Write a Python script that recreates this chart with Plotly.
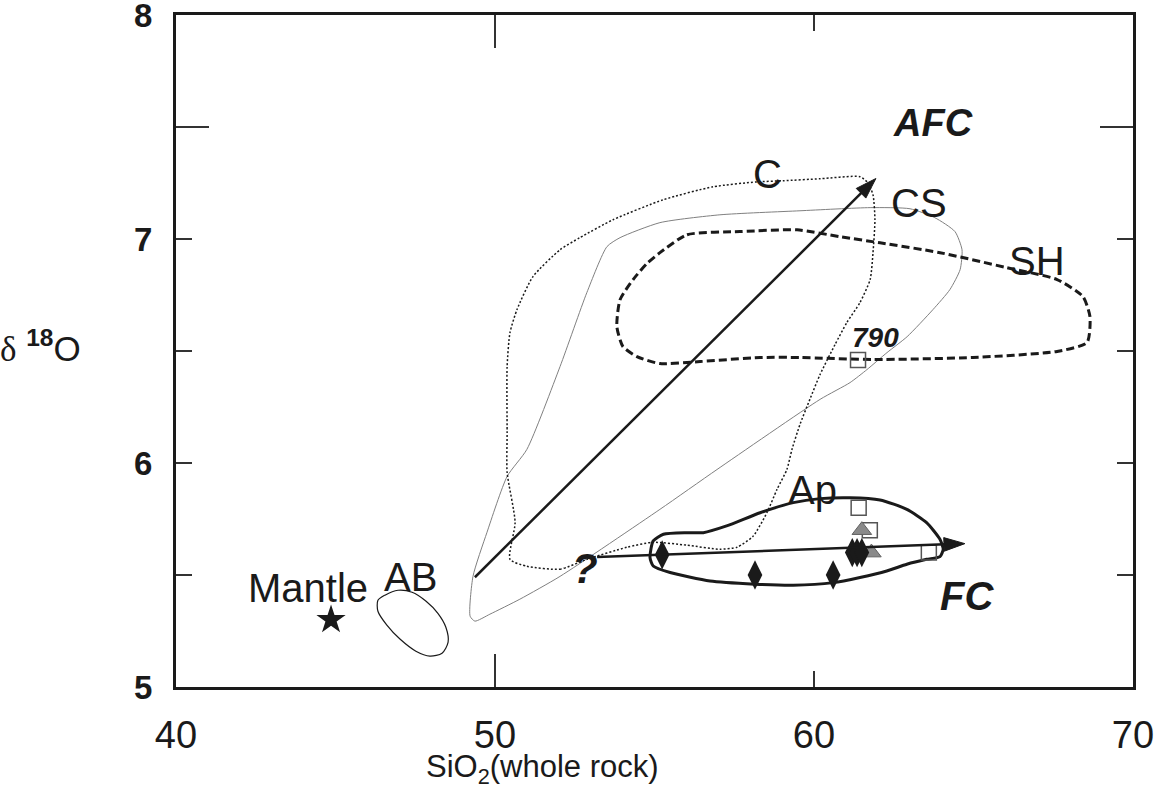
import plotly.graph_objects as go

# ---------------- data ----------------
x_range = [40, 70]
y_range = [5, 8]
x_tick_vals = [40, 50, 60, 70]
x_tick_text = ["40", "50", "60", "70"]
y_tick_vals = [5, 6, 7, 8]
y_tick_text = ["5", "6", "7", "8"]
y_minor_vals = [5.5, 6.5, 7.5]

# C field (dotted)
c_x = [51.00, 52.04, 52.88, 54.14, 54.95, 56.02, 57.05, 57.59, 58.09, 58.53, 58.84, 59.15, 59.31,
       59.56, 59.87, 60.19, 60.66, 61.03, 61.44, 61.76, 61.85, 61.91, 61.85, 61.69, 61.44, 60.19,
       59.03, 58.21, 56.83, 55.27, 53.70, 52.66, 52.04, 51.19, 50.69, 50.47, 50.38, 50.38, 50.38,
       50.63, 50.47, 51.00]
c_y = [5.539, 5.526, 5.570, 5.624, 5.646, 5.633, 5.615, 5.624, 5.673, 5.780, 5.882, 5.971, 6.061,
       6.172, 6.284, 6.395, 6.529, 6.627, 6.716, 6.819, 6.939, 7.086, 7.197, 7.251, 7.278, 7.269,
       7.260, 7.255, 7.233, 7.175, 7.086, 7.006, 6.952, 6.832, 6.685, 6.582, 6.431, 6.136, 5.958,
       5.735, 5.570, 5.539]

# CS field (thin grey)
cs_x = [49.22, 49.31, 49.75, 50.38, 51.00, 52.04, 52.88, 53.51, 53.92, 55.17, 57.05, 59.56, 61.76,
        63.01, 63.79, 64.42, 64.64, 64.58, 64.26, 63.73, 62.92, 62.29, 61.66, 61.13, 60.19, 56.96,
        55.17, 52.04, 50.78, 49.84, 49.37, 49.22]
cs_y = [5.316, 5.494, 5.691, 5.940, 6.061, 6.431, 6.761, 6.966, 7.006, 7.073, 7.108, 7.126, 7.140,
        7.135, 7.095, 7.033, 6.952, 6.863, 6.774, 6.685, 6.564, 6.493, 6.417, 6.359, 6.284, 5.971,
        5.793, 5.494, 5.392, 5.325, 5.294, 5.316]

# SH field (thick dashed)
sh_x = [55.17, 56.02, 57.68, 59.47, 60.82, 62.07, 63.95, 66.05, 67.62, 68.43, 68.65, 68.56, 67.62,
        64.98, 61.85, 59.56, 58.31, 56.43, 55.17, 54.45, 54.01, 53.82, 53.92, 54.33, 54.76, 55.17]
sh_y = [6.939, 7.019, 7.033, 7.041, 7.010, 6.983, 6.939, 6.872, 6.819, 6.743, 6.654, 6.538, 6.498,
        6.471, 6.462, 6.471, 6.471, 6.453, 6.444, 6.475, 6.520, 6.609, 6.729, 6.819, 6.890, 6.939]

# Ap field (thick solid)
ap_x = [54.86, 54.96, 55.28, 56.01, 56.53, 57.26, 58.31, 59.35, 60.19, 61.13, 62.07, 62.91, 63.53,
        63.95, 64.05, 63.95, 63.53, 62.91, 62.28, 61.44, 60.61, 59.35, 58.15, 56.74, 55.49, 54.96,
        54.86]
ap_y = [5.578, 5.652, 5.682, 5.689, 5.689, 5.719, 5.778, 5.823, 5.841, 5.845, 5.835, 5.793, 5.734,
        5.659, 5.615, 5.582, 5.570, 5.548, 5.518, 5.489, 5.466, 5.454, 5.459, 5.473, 5.511, 5.540,
        5.578]

# AB field (thin ellipse)
ab_x = [46.55, 46.96, 47.40, 47.84, 48.21, 48.46, 48.53, 48.34, 47.96, 47.52, 47.02, 46.61, 46.33,
        46.33, 46.55]
ab_y = [5.410, 5.432, 5.423, 5.383, 5.329, 5.267, 5.200, 5.151, 5.138, 5.160, 5.214, 5.276, 5.338,
        5.387, 5.410]

# samples
mantle_x = [44.86]
mantle_y = [5.30]
diamond_x = [55.24, 58.15, 60.60, 61.20, 61.35, 61.50]
diamond_y = [5.59, 5.50, 5.50, 5.60, 5.60, 5.60]
triangle_x = [61.50, 61.80]
triangle_y = [5.70, 5.60]
square_x = [61.40, 61.75, 63.60, 61.38]
square_y = [5.80, 5.70, 5.60, 6.46]

# trend arrows (tail -> head)
afc_x = [49.37, 61.94]
afc_y = [5.49, 7.27]
fc_x = [53.20, 64.73]
fc_y = [5.58, 5.64]

# labels: (text, x, y, size, bold-italic)
labels = [
    ("AFC", 63.73, 7.52, 38, True),
    ("C", 58.53, 7.29, 40, False),
    ("CS", 63.29, 7.16, 40, False),
    ("SH", 66.99, 6.90, 40, False),
    ("790", 61.94, 6.56, 28, True),
    ("Ap", 59.94, 5.88, 40, False),
    ("?", 52.82, 5.53, 42, True),
    ("FC", 64.80, 5.405, 40, True),
    ("Mantle", 44.14, 5.44, 40, False),
    ("AB", 47.34, 5.49, 40, False),
]

# ---------------- figure ----------------
BLACK = "#1a1a1a"
SANS = "Liberation Sans, Arial, sans-serif"

fig = go.Figure()

fig.add_trace(go.Scatter(x=cs_x, y=cs_y, mode="lines", line=dict(color="#808080", width=1, shape="spline", smoothing=0.6), hoverinfo="skip"))
fig.add_trace(go.Scatter(x=c_x, y=c_y, mode="lines", line=dict(color=BLACK, width=1.5, dash="2px,2px", shape="spline", smoothing=0.6), hoverinfo="skip"))
fig.add_trace(go.Scatter(x=sh_x, y=sh_y, mode="lines", line=dict(color=BLACK, width=3, dash="8px,4px", shape="spline", smoothing=0.6), hoverinfo="skip"))
fig.add_trace(go.Scatter(x=ap_x, y=ap_y, mode="lines", line=dict(color=BLACK, width=3, shape="spline", smoothing=0.6), hoverinfo="skip"))
fig.add_trace(go.Scatter(x=ab_x, y=ab_y, mode="lines", line=dict(color=BLACK, width=1.2, shape="spline", smoothing=0.8), hoverinfo="skip"))

fig.add_trace(go.Scatter(x=square_x, y=square_y, mode="markers",
                         marker=dict(symbol="square-open", size=15, color="#555555", line=dict(width=1.5))))
fig.add_trace(go.Scatter(x=triangle_x, y=triangle_y, mode="markers",
                         marker=dict(symbol="triangle-up", size=17, color="#8a8a8a", line=dict(color="#606060", width=1))))
fig.add_trace(go.Scatter(x=diamond_x, y=diamond_y, mode="markers",
                         marker=dict(symbol="diamond-tall", size=21, color=BLACK)))
fig.add_trace(go.Scatter(x=mantle_x, y=mantle_y, mode="markers",
                         marker=dict(symbol="star", size=22, color=BLACK)))

# trend arrows as line + arrow-head marker
for ax_, ay_ in [(afc_x, afc_y), (fc_x, fc_y)]:
    fig.add_trace(go.Scatter(x=ax_, y=ay_, mode="lines+markers", hoverinfo="skip",
                             line=dict(color=BLACK, width=2.5),
                             marker=dict(symbol="arrow", angleref="previous", size=[0, 22],
                                         color=BLACK, opacity=1, line=dict(color=BLACK, width=1))))

# dummy trace on secondary axes (long ticks)
fig.add_trace(go.Scatter(x=[None], y=[None], xaxis="x2", yaxis="y2", mode="markers", hoverinfo="skip"))

for text, lx, ly, size, bi in labels:
    t = f"<b><i>{text}</i></b>" if bi else text
    fig.add_annotation(x=lx, y=ly, xref="x", yref="y", text=t, showarrow=False,
                       font=dict(family=SANS, size=size, color=BLACK),
                       xanchor="center", yanchor="middle")

# axis titles as annotations
fig.add_annotation(x=51.5, y=-0.122, xref="x", yref="paper", showarrow=False,
                   text="SiO<sub>2</sub>(whole rock)",
                   font=dict(family=SANS, size=31, color=BLACK), xanchor="center", yanchor="middle")
fig.add_annotation(x=-0.186, y=6.52, xref="paper", yref="y", showarrow=False, xanchor="left", yanchor="middle",
                   text='<span style="font-family:Liberation Serif">δ</span> <b><sup>18</sup></b>O',
                   font=dict(family=SANS, size=35, color=BLACK))

axis_common = dict(showline=True, linecolor=BLACK, linewidth=3, mirror="ticks", ticks="inside",
                   tickcolor="#333333", tickwidth=1.5, showgrid=False, zeroline=False,
                   automargin=False, ticklabeloverflow="allow")

fig.update_layout(
    width=1161, height=794,
    margin=dict(l=176, r=28, t=15, b=107),
    paper_bgcolor="white", plot_bgcolor="white",
    showlegend=False,
    xaxis=dict(range=x_range, tickmode="array", tickvals=x_tick_vals, ticktext=x_tick_text,
               ticklen=16, ticklabelstandoff=12,
               tickfont=dict(family=SANS, size=38, color=BLACK), **axis_common),
    yaxis=dict(range=y_range, tickmode="array", tickvals=y_tick_vals, ticktext=y_tick_text,
               ticklen=16, ticklabelstandoff=14,
               minor=dict(tickmode="array", tickvals=y_minor_vals, ticks="inside", ticklen=16,
                          tickwidth=1.5, tickcolor="#333333"),
               tickfont=dict(family=SANS, size=33, color=BLACK, weight="bold"), **axis_common),
    xaxis2=dict(range=x_range, overlaying="x", anchor="y2", side="bottom", tickmode="array",
                tickvals=[50], ticklen=33, showticklabels=False, **axis_common),
    yaxis2=dict(range=y_range, overlaying="y", anchor="x2", side="left", tickmode="array",
                tickvals=[7.5], ticklen=33, showticklabels=False, **axis_common),
)

fig.write_html("out.html", config={"displayModeBar": False},
               post_script="document.body.style.margin='0';document.body.style.overflow='hidden';")
